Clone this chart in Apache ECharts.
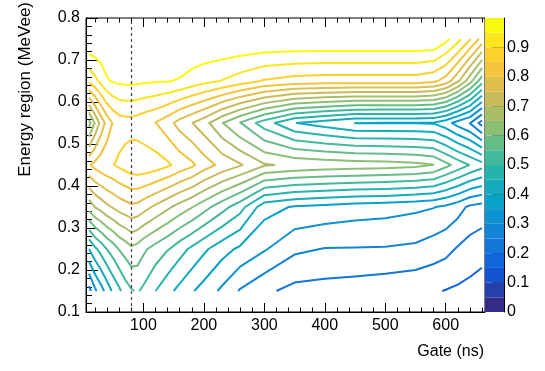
<!DOCTYPE html>
<html><head><meta charset="utf-8">
<script src="https://cdn.jsdelivr.net/npm/echarts@6/dist/echarts.min.js"></script>
<style>html,body{margin:0;padding:0;background:#fff;}#c{width:545px;height:371px;}</style>
</head><body><div id="c"></div>
<script>
// ---- data (grid of bin centres, ratio values) ----
const gateNs = [10,20,30,40,50,60,70,80,90,100,120,140,160,180,200,230,260,300,350,400,450,500,550,580,600,620,640,660];
const energyRows = [0.15,0.25,0.35,0.45,0.55,0.65,0.75];
const ratioE015 = [0.23,0.29,0.33,0.37,0.41,0.44,0.475,0.495,0.505,0.49,0.45,0.415,0.385,0.355,0.33,0.29,0.245,0.21,0.185,0.18,0.175,0.168,0.16,0.155,0.148,0.142,0.135,0.125];
const ratioE025 = [0.40,0.44,0.47,0.502,0.525,0.553,0.57,0.59,0.58,0.56,0.53,0.503,0.47,0.44,0.41,0.37,0.34,0.305,0.26,0.248,0.247,0.246,0.24,0.225,0.215,0.195,0.18,0.17];
const ratioE035 = [0.62,0.652,0.67,0.69,0.705,0.72,0.73,0.74,0.735,0.72,0.69,0.66,0.63,0.603,0.57,0.52,0.47,0.37,0.345,0.335,0.325,0.32,0.31,0.302,0.29,0.27,0.24,0.23];
const ratioE045 = [0.795,0.815,0.83,0.84,0.848,0.86,0.87,0.88,0.885,0.885,0.875,0.858,0.832,0.81,0.775,0.735,0.705,0.655,0.64,0.632,0.627,0.623,0.615,0.601,0.565,0.53,0.498,0.47];
const ratioE055 = [0.58,0.655,0.72,0.77,0.805,0.825,0.83,0.83,0.825,0.815,0.798,0.77,0.73,0.702,0.67,0.603,0.545,0.475,0.402,0.375,0.349,0.348,0.348,0.346,0.32,0.28,0.248,0.18];
const ratioE065 = [0.86,0.885,0.915,0.945,0.955,0.96,0.962,0.962,0.96,0.958,0.955,0.952,0.946,0.93,0.915,0.898,0.875,0.845,0.83,0.825,0.825,0.825,0.825,0.81,0.78,0.71,0.62,0.52];
const ratioE075 = [1,1,1,1,1,1,1,1,1,1,1,1,1,1,1,1,1,1,1,1,1,1,1,1,0.965,0.917,0.854,0.78];
const contourLevels = [0,0.05,0.1,0.15,0.2,0.25,0.3,0.35,0.4,0.45,0.5,0.55,0.6,0.65,0.7,0.75,0.8,0.85,0.9,0.95];
const paletteBandLow = [0,0.05,0.1,0.15,0.2,0.25,0.3,0.35,0.4,0.45,0.5,0.55,0.6,0.65,0.7,0.75,0.8,0.85,0.9,0.95];
const paletteLabels = [0,0.1,0.2,0.3,0.4,0.5,0.6,0.7,0.8,0.9];
const gateLabels = [100,200,300,400,500,600];
const gateMinor = [20,40,60,80,120,140,160,180,220,240,260,280,320,340,360,380,420,440,460,480,520,540,560,580,620,640,660];
const dashedGate = 80;

// ---- ROOT kBird palette ----
const birdStops=[0,0.125,0.25,0.375,0.5,0.625,0.75,0.875,1];
const birdR=[0.2082,0.0592,0.0780,0.0232,0.1802,0.5301,0.8186,0.9956,0.9764];
const birdG=[0.1664,0.3599,0.5041,0.6419,0.7178,0.7492,0.7328,0.7862,0.9832];
const birdB=[0.5293,0.8684,0.8385,0.7914,0.6425,0.4662,0.3499,0.1968,0.0539];
function bird(t){
  t=Math.max(0,Math.min(1,t));
  let i=0; while(i<birdStops.length-2 && t>birdStops[i+1]) i++;
  const f=(t-birdStops[i])/(birdStops[i+1]-birdStops[i]);
  const c=a=>Math.round(255*(a[i]+(a[i+1]-a[i])*f));
  return 'rgb('+c(birdR)+','+c(birdG)+','+c(birdB)+')';
}
const nBands = paletteBandLow.length;
const levelColor = k => bird(k/(nBands-1));

// ---- marching squares on the bin-centre grid ----
const Z=[ratioE015,ratioE025,ratioE035,ratioE045,ratioE055,ratioE065,ratioE075];
function contourLines(L){
  const nx=gateNs.length, ny=energyRows.length, segs=[];
  const hp=(i,j)=>{const a=Z[j][i],b=Z[j][i+1];const t=(L-a)/(b-a);return {k:'h'+i+'_'+j,p:[gateNs[i]+t*(gateNs[i+1]-gateNs[i]),energyRows[j]]};};
  const vp=(i,j)=>{const a=Z[j][i],b=Z[j+1][i];const t=(L-a)/(b-a);return {k:'v'+i+'_'+j,p:[gateNs[i],energyRows[j]+t*(energyRows[j+1]-energyRows[j])]};};
  for(let j=0;j<ny-1;j++)for(let i=0;i<nx-1;i++){
    const a=Z[j][i],b=Z[j][i+1],c=Z[j+1][i+1],d=Z[j+1][i];
    const A=a>=L,B=b>=L,C=c>=L,D=d>=L;
    const bot=A!==B?hp(i,j):null, rig=B!==C?vp(i+1,j):null, top=D!==C?hp(i,j+1):null, lef=A!==D?vp(i,j):null;
    const e=[bot,rig,top,lef].filter(x=>x);
    if(e.length===2) segs.push([e[0],e[1]]);
    else if(e.length===4){
      const ctr=(a+b+c+d)/4>=L;
      if(A&&C){ if(ctr){segs.push([bot,rig]);segs.push([lef,top]);} else {segs.push([bot,lef]);segs.push([rig,top]);} }
      else { if(ctr){segs.push([bot,lef]);segs.push([rig,top]);} else {segs.push([bot,rig]);segs.push([lef,top]);} }
    }
  }
  const byKey=new Map();
  segs.forEach((s,i)=>{for(const q of s){if(!byKey.has(q.k))byKey.set(q.k,[]);byKey.get(q.k).push(i);}});
  const used=segs.map(()=>false), lines=[];
  for(let i=0;i<segs.length;i++){
    if(used[i])continue; used[i]=true;
    const pts=[segs[i][0].p,segs[i][1].p];
    let key=segs[i][1].k;
    for(;;){const n=(byKey.get(key)||[]).find(j=>!used[j]);if(n===undefined)break;used[n]=true;const s=segs[n];if(s[0].k===key){pts.push(s[1].p);key=s[1].k;}else{pts.push(s[0].p);key=s[0].k;}}
    key=segs[i][0].k;
    for(;;){const n=(byKey.get(key)||[]).find(j=>!used[j]);if(n===undefined)break;used[n]=true;const s=segs[n];if(s[0].k===key){pts.unshift(s[1].p);key=s[1].k;}else{pts.unshift(s[0].p);key=s[0].k;}}
    lines.push(pts);
  }
  return lines;
}

const FONT='"Liberation Sans", Arial, Helvetica, sans-serif';
const series=[];
contourLevels.forEach((L,k)=>{
  contourLines(L).forEach(pts=>{
    series.push({type:'line',xAxisIndex:0,yAxisIndex:0,data:pts,symbol:'none',showSymbol:false,silent:true,animation:false,
      lineStyle:{color:levelColor(k),width:2,join:'round'},z:3});
  });
});
series.push({type:'line',xAxisIndex:0,yAxisIndex:0,data:[],symbol:'none',silent:true,animation:false,
  markLine:{silent:true,symbol:['none','none'],label:{show:false},animation:false,
    lineStyle:{color:'#444',width:1.2,type:[3,3]},data:[{xAxis:dashedGate}]},z:4});
paletteBandLow.forEach((v,k)=>{
  series.push({type:'bar',xAxisIndex:4,yAxisIndex:1,stack:'pal',data:[0.05],barWidth:'100%',barCategoryGap:0,
    silent:true,animation:false,itemStyle:{color:levelColor(k)}});
});

const xCommon={type:'value',gridIndex:0,min:5,max:665,splitLine:{show:false},axisLine:{show:false}};
const chart=echarts.init(document.getElementById('c'),null,{renderer:'canvas'});
chart.setOption({
  animation:false,
  backgroundColor:'#fff',
  grid:[{left:86,top:18,width:399,height:294,show:true,borderColor:'#000',borderWidth:1,backgroundColor:'transparent'},
        {left:485,top:18,width:19,height:294}],
  xAxis:[
    Object.assign({},xCommon,{position:'bottom',axisLine:{show:true,lineStyle:{color:'#000'}},
      axisTick:{show:true,inside:true,length:9,customValues:gateLabels,lineStyle:{color:'#000'}},
      axisLabel:{show:true,customValues:gateLabels,fontSize:16,fontFamily:FONT,color:'#000',margin:6}}),
    Object.assign({},xCommon,{position:'bottom',axisTick:{show:true,inside:true,length:4.5,customValues:gateMinor,lineStyle:{color:'#000'}},axisLabel:{show:false}}),
    Object.assign({},xCommon,{position:'top',axisTick:{show:true,inside:true,length:9,customValues:gateLabels,lineStyle:{color:'#000'}},axisLabel:{show:false}}),
    Object.assign({},xCommon,{position:'top',axisTick:{show:true,inside:true,length:4.5,customValues:gateMinor,lineStyle:{color:'#000'}},axisLabel:{show:false}}),
    {type:'category',gridIndex:1,data:['palette'],show:false}
  ],
  yAxis:[
    {type:'value',gridIndex:0,min:0.1,max:0.8,interval:0.1,position:'left',
      axisLine:{show:true,lineStyle:{color:'#000'}},splitLine:{show:false},
      axisTick:{show:true,inside:true,length:12,lineStyle:{color:'#000'}},
      minorTick:{show:true,splitNumber:5,length:6,lineStyle:{color:'#000'}},minorSplitLine:{show:false},
      axisLabel:{fontSize:16,fontFamily:FONT,color:'#000',margin:6,formatter:v=>v.toFixed(1)}},
    {type:'value',gridIndex:1,min:0,max:1,position:'right',splitLine:{show:false},
      axisLine:{show:true,lineStyle:{color:'#000'}},
      axisTick:{show:true,inside:true,length:12,customValues:paletteLabels.slice(1),lineStyle:{color:'#333'}},
      axisLabel:{customValues:paletteLabels,fontSize:16,fontFamily:FONT,color:'#000',margin:3,formatter:v=>v===0?'0':v.toFixed(1)}}
  ],
  graphic:[
    {type:'text',x:484,y:352,style:{text:'Gate (ns)',font:'16px '+FONT,fill:'#000',textAlign:'right',textVerticalAlign:'middle'}},
    {type:'text',x:25,y:2,rotation:Math.PI/2,style:{text:'Energy region (MeVee)',font:'17px '+FONT,fill:'#000',textAlign:'right',textVerticalAlign:'middle'}}
  ],
  series:series
});
</script></body></html>
